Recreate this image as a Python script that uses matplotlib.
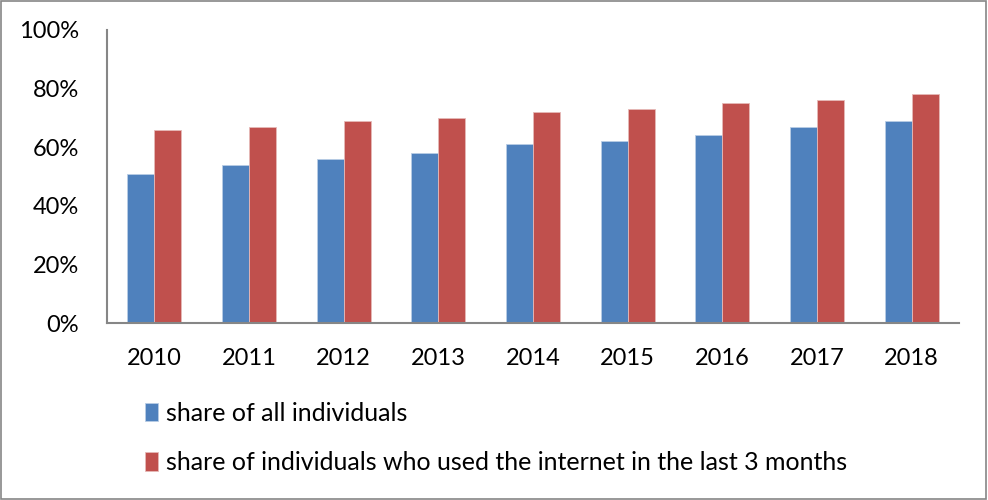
import numpy as np
import matplotlib.pyplot as plt
from matplotlib.patches import Rectangle
from matplotlib.ticker import PercentFormatter

years = ['2010', '2011', '2012', '2013', '2014', '2015', '2016', '2017', '2018']
all_individuals = [51, 54, 56, 58, 61, 62, 64, 67, 69]
internet_users = [66, 67, 69, 70, 72, 73, 75, 76, 78]
labels = ['share of all individuals',
          'share of individuals who used the internet in the last 3 months']

plt.rcParams['font.family'] = ['Lato', 'DejaVu Sans']

fig = plt.figure(figsize=(9.88, 5.0), dpi=100)
ax = fig.add_axes([0.1083, 0.354, 0.8624, 0.586])

x = np.arange(len(years))
w = 0.2857
ax.bar(x - w / 2, all_individuals, w, color='#4f81bd', edgecolor='#b9cde5',
       linewidth=0.6, label=labels[0])
ax.bar(x + w / 2, internet_users, w, color='#c0504d', edgecolor='#e6b9b8',
       linewidth=0.6, label=labels[1])

ax.set_xlim(-0.5, len(years) - 0.5)
ax.set_ylim(0, 100)
ax.set_yticks(range(0, 101, 20))
ax.yaxis.set_major_formatter(PercentFormatter(decimals=0))
ax.set_xticks(x)
ax.set_xticklabels(years)
ax.tick_params(length=0, labelsize=17, colors='black')
ax.tick_params(axis='x', pad=18)
ax.tick_params(axis='y', pad=20)

for s in ['top', 'right']:
    ax.spines[s].set_visible(False)
for s in ['left', 'bottom']:
    ax.spines[s].set_color('#868686')
    ax.spines[s].set_linewidth(1.5)

fig.legend(loc='upper left', bbox_to_anchor=(0.147, 0.196), frameon=False,
           fontsize=18, handlelength=0.5, handleheight=0.75, handletextpad=0.35,
           labelspacing=1.05, borderaxespad=0, borderpad=0)

fig.patches.append(Rectangle((0.001, 0.002), 0.997, 0.996, transform=fig.transFigure,
                             fill=False, edgecolor='#868686', linewidth=1.2))

fig.savefig('out.png', dpi=100)
